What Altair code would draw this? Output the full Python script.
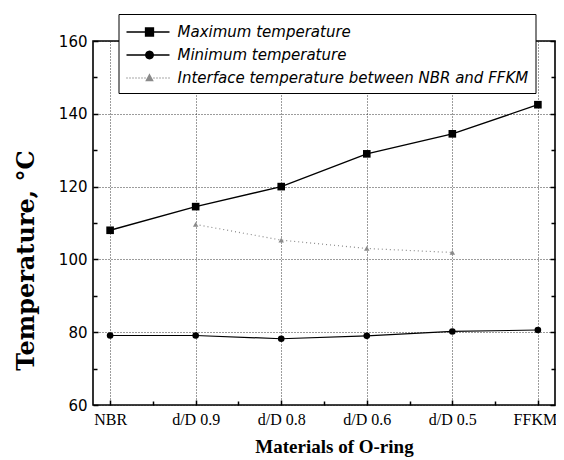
import json
import math
import altair as alt
import pandas as pd

# ---- data ----
categories = ["NBR", "d/D 0.9", "d/D 0.8", "d/D 0.6", "d/D 0.5", "FFKM"]
max_temp = [108.0, 114.5, 120.0, 129.0, 134.5, 142.5]
min_temp = [79.1, 79.1, 78.2, 79.0, 80.2, 80.6]
interface_temp = [None, 109.6, 105.3, 103.0, 101.9, None]
series = [
    "Maximum temperature",
    "Minimum temperature",
    "Interface temperature between NBR and FFKM",
]
x_major = [0, 1, 2, 3, 4, 5]
x_minor = [0.5, 1.5, 2.5, 3.5, 4.5]
y_major = [60, 80, 100, 120, 140, 160]
y_minor = [70, 90, 110, 130, 150]

rows = []
for name, vals in zip(series, [max_temp, min_temp, interface_temp]):
    for i, (c, v) in enumerate(zip(categories, vals)):
        if v is not None:
            rows.append({"series": name, "idx": i, "material": c, "temp": v})
df = pd.DataFrame(rows)

# ---- legend symbols (line sample + marker) as custom paths ----
def circle_path(cx, cy, r, n=16):
    pts = [(cx + r * math.cos(2 * math.pi * k / n), cy + r * math.sin(2 * math.pi * k / n)) for k in range(n)]
    return "M" + "L".join(f"{x:.3f},{y:.3f}" for x, y in pts) + "Z"

dots = "".join(f"M{(-1 + 0.3 * k):.2f},0H{(-1 + 0.3 * k + 0.1):.2f}" for k in range(15))
sym_max = "M-1,0H3.3M0.9,-0.4H1.7V0.4H0.9Z"
sym_min = "M-1,0H3.3" + circle_path(1.3, 0, 0.38)
sym_int = dots + "M1.3,-0.33L1.62,0.27L0.98,0.27Z"
sym_paths = [sym_max, sym_min, sym_int]
sym_colors = ["black", "black", "#8a8a8a"]

xs = alt.Scale(domain=[-0.2, 5.2], nice=False, zero=False)
ys = alt.Scale(domain=[60, 160], nice=False, zero=False)
label_expr = json.dumps(categories) + "[round(datum.value)]"
last_idx = len(categories) - 1

grid_style = dict(grid=True, gridColor="#222222", gridDash=[1, 2], gridWidth=0.9)

x_main_axis = alt.Axis(
    values=x_major, labelExpr=label_expr, ticks=False, tickSize=0, domain=False,
    labelFont="Liberation Serif", labelFontSize=16, labelColor="black", labelPadding=6,
    labelFlush=False, labelOverlap=False,
    labelOffset={"condition": {"test": f"datum.value == {last_idx}", "value": -3}, "value": 0},
    title="Materials of O-ring", titleFont="Liberation Serif", titleFontSize=19,
    titleFontWeight="bold", titleColor="black", titleX=241, titleY=47,
    titleAlign="center", titleBaseline="alphabetic", zindex=0, **grid_style,
)
y_main_axis = alt.Axis(
    values=y_major, ticks=False, tickSize=0, domain=False,
    labelFont="DejaVu Sans", labelFontSize=15, labelColor="black", labelPadding=6,
    labelFlush=False, labelOverlap=False,
    title="Temperature, °C", titleFont="DejaVu Serif", titleFontSize=24,
    titleFontWeight="bold", titleColor="black", titleAngle=270, titleX=-60, titleY=219,
    titleAlign="center", titleBaseline="alphabetic", zindex=0, **grid_style,
)

def tick_axis(orient, values, size):
    return alt.Axis(orient=orient, values=values, labels=False, domain=False, grid=False,
                    ticks=True, tickSize=size, tickWidth=1.5, tickColor="black",
                    offset=-size, title=None, zindex=0)

base = alt.Chart(df)
layers = []

styles = {
    series[0]: dict(line=dict(color="black", strokeWidth=1.4), pt=dict(shape="square", size=58, color="black")),
    series[1]: dict(line=dict(color="black", strokeWidth=1.2), pt=dict(shape="circle", size=44, color="black")),
    series[2]: dict(line=dict(color="#8a8a8a", strokeWidth=1.2, strokeDash=[1, 3]), pt=dict(shape="triangle-up", size=30, color="#8a8a8a")),
}

first = True
for s in series:
    xa = x_main_axis if first else None
    ya = y_main_axis if first else None
    layers.append(
        base.transform_filter(alt.datum.series == s)
        .mark_line(**styles[s]["line"])
        .encode(x=alt.X("idx:Q", scale=xs, axis=xa), y=alt.Y("temp:Q", scale=ys, axis=ya))
    )
    first = False

for s in series:
    layers.append(
        base.transform_filter(alt.datum.series == s)
        .mark_point(filled=True, opacity=1, **styles[s]["pt"])
        .encode(x=alt.X("idx:Q", scale=xs, axis=None), y=alt.Y("temp:Q", scale=ys, axis=None))
    )

# inside ticks (major and minor) on bottom, left and right
layers.append(base.mark_point(opacity=0).encode(x=alt.X("idx:Q", scale=xs, axis=tick_axis("bottom", x_major, 5))))
layers.append(base.mark_point(opacity=0).encode(x=alt.X("idx:Q", scale=xs, axis=tick_axis("bottom", x_minor, 4))))
layers.append(base.mark_point(opacity=0).encode(y=alt.Y("temp:Q", scale=ys, axis=tick_axis("left", y_major, 5))))
layers.append(base.mark_point(opacity=0).encode(y=alt.Y("temp:Q", scale=ys, axis=tick_axis("left", y_minor, 4))))
layers.append(base.mark_point(opacity=0).encode(y=alt.Y("temp:Q", scale=ys, axis=tick_axis("right", y_major, 5))))
layers.append(base.mark_point(opacity=0).encode(y=alt.Y("temp:Q", scale=ys, axis=tick_axis("right", y_minor, 4))))

legend_def = alt.Legend(
    orient="none", legendX=25.5, legendY=-27, title=None,
    fillColor="white", strokeColor="black", padding=7,
    labelFont="DejaVu Sans", labelFontSize=15, labelFontStyle="italic", labelColor="black",
    labelOffset=30, labelLimit=600, symbolSize=400, symbolStrokeWidth=1.3,
    rowPadding=4, zindex=2,
)
layers.append(
    base.transform_filter("false")
    .mark_point(filled=True, opacity=1)
    .encode(
        shape=alt.Shape("series:N", scale=alt.Scale(domain=series, range=sym_paths), legend=legend_def),
        fill=alt.Fill("series:N", scale=alt.Scale(domain=series, range=sym_colors), legend=legend_def),
        stroke=alt.Stroke("series:N", scale=alt.Scale(domain=series, range=sym_colors), legend=legend_def),
    )
)

chart = (
    alt.layer(*layers)
    .resolve_axis(x="independent", y="independent")
    .properties(
        width=462, height=364,
        padding={"left": 85, "top": 33, "right": 1, "bottom": 52},
        autosize=alt.AutoSizeParams(type="none"),
        background="white",
    )
    .configure_view(stroke="black", strokeWidth=1.6)
)

chart.save("out.html", embed_options={"renderer": "svg", "actions": False})
